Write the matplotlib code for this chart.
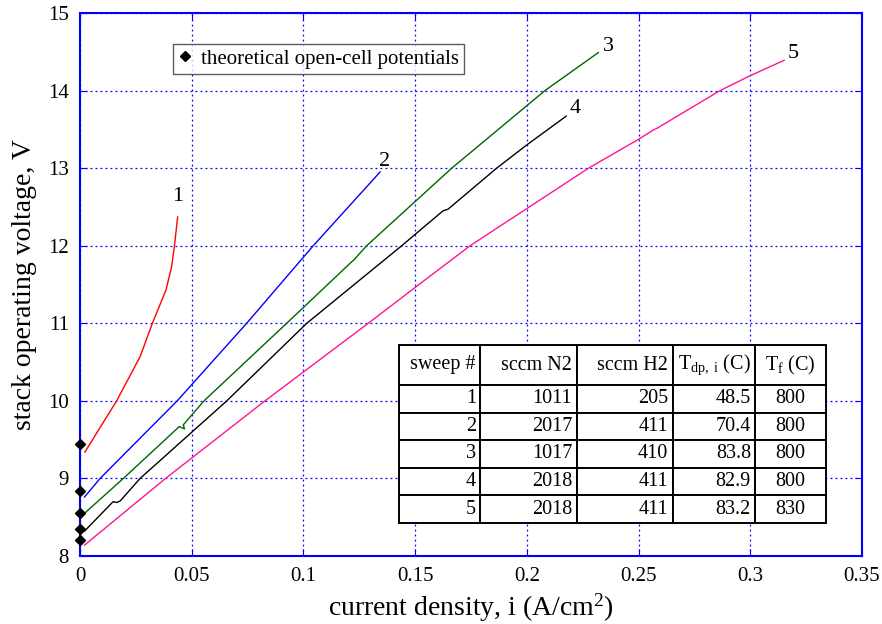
import matplotlib
matplotlib.use("Agg")
import matplotlib.pyplot as plt
import numpy as np

plt.rcParams['font.family'] = ['Liberation Serif', 'DejaVu Serif']
plt.rcParams['mathtext.fontset'] = 'custom'
plt.rcParams['mathtext.rm'] = 'Liberation Serif'
plt.rcParams['mathtext.it'] = 'Liberation Serif:italic'

# ---- data ----
x1 = [0.0022, 0.0164, 0.0269, 0.0324, 0.0385, 0.0410, 0.0422, 0.0437]
v1 = [9.34, 10.0, 10.57, 11.0, 11.43, 11.73, 11.98, 12.37]

x2 = [0.002, 0.009, 0.0435, 0.0746, 0.1044, 0.1343]
v2 = [8.76, 9.0, 10.0, 11.0, 12.0, 12.95]

x3 = [0.002, 0.0194, 0.0445, 0.0450, 0.0468, 0.0462, 0.0555, 0.0925, 0.1215, 0.1223, 0.1230, 0.1283, 0.1664, 0.2081, 0.232]
v3 = [8.55, 9.0, 9.67, 9.66, 9.64, 9.69, 10.0, 11.0, 11.79, 11.81, 11.83, 12.0, 13.0, 14.0, 14.49]

x4 = [0.002, 0.0148, 0.0165, 0.0180, 0.0269, 0.0657, 0.1015, 0.144, 0.1625, 0.1647, 0.1865, 0.200, 0.2176]
v4 = [8.32, 8.70, 8.69, 8.71, 9.0, 10.0, 11.0, 12.0, 12.45, 12.47, 13.0, 13.30, 13.67]

x5 = [0.002, 0.0383, 0.0828, 0.129, 0.1522, 0.1746, 0.2149, 0.2276, 0.2499, 0.2565, 0.2580, 0.2865, 0.2991, 0.3151]
v5 = [8.14, 9.0, 10.0, 11.0, 11.51, 12.0, 12.76, 13.0, 13.37, 13.49, 13.51, 14.0, 14.18, 14.39]

theory_x = [0, 0, 0, 0, 0]
theory_v = [9.447, 8.832, 8.552, 8.35, 8.21]

curve_labels = ['1', '2', '3', '4', '5']
label_x = [0.0437, 0.1365, 0.2364, 0.2216, 0.3192]
label_v = [12.63, 13.08, 14.57, 13.77, 14.48]

col_labels = ['sweep #', 'sccm N2', 'sccm H2', r'T$_{\rm dp,\ i}$ (C)', r'T$_{\rm f}$ (C)']
sweep = ['1', '2', '3', '4', '5']
sccm_n2 = ['1011', '2017', '1017', '2018', '2018']
sccm_h2 = ['205', '411', '410', '411', '411']
t_dp = ['48.5', '70.4', '83.8', '82.9', '83.2']
t_f = ['800', '800', '800', '800', '830']

colors = ['#ff0000', '#0000ff', '#006400', '#000000', '#ff1493']

# ---- figure ----
fig = plt.figure(figsize=(8.82, 6.24), dpi=100)
ax = fig.add_axes([80/882, 1-556/624, 782/882, 543/624])

for xs, vs, c in zip([x1, x2, x3, x4, x5], [v1, v2, v3, v4, v5], colors):
    ax.plot(xs, vs, color=c, lw=1.0)

for lab, lx, lv in zip(curve_labels, label_x, label_v):
    ax.text(lx, lv, lab, fontsize=16, ha='center', va='center')

ax.plot(theory_x, theory_v, linestyle='none', marker='D', color='black',
        markersize=5, clip_on=False, zorder=5, label='theoretical open-cell potentials')

ax.set_xlim(0, 0.35)
ax.set_ylim(8, 15)
ax.set_xticks(np.arange(0, 0.351, 0.05))
ax.set_xticklabels(['0', '0.05', '0.1', '0.15', '0.2', '0.25', '0.3', '0.35'])
ax.set_yticks(range(8, 16))
ax.tick_params(direction='in', length=5, color='#0000ff', labelsize=15,
               top=True, right=True, pad=8)
for s in ax.spines.values():
    s.set_color('#0000ff')
    s.set_linewidth(1.5)
ax.grid(True, color='#0000ff', linestyle=(0, (1.5, 2.5)), lw=0.9)
ax.set_axisbelow(True)

ax.set_xlabel(r'current density, i (A/cm$^2$)', fontsize=20, labelpad=4)
ax.set_ylabel('stack operating voltage, V', fontsize=20, labelpad=8)

leg = ax.legend(loc='upper left', bbox_to_anchor=(0.119, 0.943), borderaxespad=0,
                fancybox=False, edgecolor='#333333', fontsize=15, handlelength=0.6,
                handletextpad=0.5, borderpad=0.25, markerscale=1.0)
leg.get_frame().set_linewidth(1.0)

cell_text = [list(r) for r in zip(sweep, sccm_n2, sccm_h2, t_dp, t_f)]
widths = np.array([81, 97, 96, 82, 71], dtype=float)
widths = widths / widths.sum()
tbl = ax.table(cellText=cell_text, colLabels=col_labels,
               colWidths=list(widths), cellLoc='right', colLoc='right',
               bbox=[(399-80)/782, (556-523)/543, 427/782, 178/543])
tbl.auto_set_font_size(False)
tbl.set_fontsize(14.5)
for (r, c), cell in tbl.get_celld().items():
    cell.set_height(40 if r == 0 else 27.6)
    cell.set_linewidth(1.4)
    cell.set_edgecolor('black')
    cell.PAD = 0.05
    if c == 4:
        cell.get_text().set_horizontalalignment('center')
        cell._loc = 'center'
tbl.set_zorder(6)

fig.savefig('out.png', dpi=100)
